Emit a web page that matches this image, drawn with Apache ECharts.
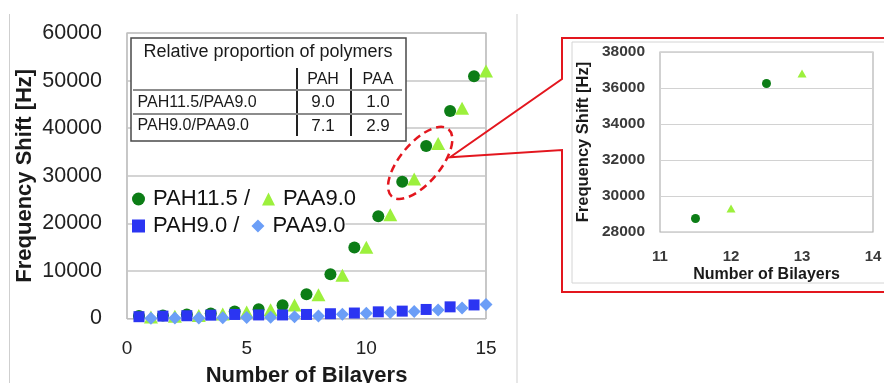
<!DOCTYPE html>
<html>
<head>
<meta charset="utf-8">
<script src="https://cdn.jsdelivr.net/npm/echarts@6/dist/echarts.min.js"></script>
<style>
  html, body { margin: 0; padding: 0; background: #fff; }
  #c { width: 884px; height: 383px; }
</style>
</head>
<body>
<div id="c"></div>
<script>
// Bilayer counts: PAH layers sit on half-integers, PAA layers on integers
const bilayersPAH = [0.5, 1.5, 2.5, 3.5, 4.5, 5.5, 6.5, 7.5, 8.5, 9.5, 10.5, 11.5, 12.5, 13.5, 14.5];
const bilayersPAA = [1, 2, 3, 4, 5, 6, 7, 8, 9, 10, 11, 12, 13, 14, 15];

// Frequency shift [Hz]
const shiftPAH115 = [550, 650, 850, 1050, 1450, 1950, 2800, 5100, 9300, 14900, 21500, 28750, 36250, 43600, 50900];
const shiftPAA90onPAH115 = [300, 450, 650, 950, 1350, 1850, 2850, 5000, 9100, 15000, 21800, 29300, 36800, 44200, 52000];
const shiftPAH90 = [380, 500, 580, 700, 850, 750, 750, 850, 1000, 1150, 1400, 1550, 1900, 2450, 2850];
const shiftPAA90onPAH90 = [50, 80, 120, 150, 200, 280, 380, 530, 880, 1100, 1250, 1450, 1800, 2200, 2950];

// Legend labels
const seriesNames = ['PAH11.5', 'PAA9.0 (on PAH11.5)', 'PAH9.0', 'PAA9.0 (on PAH9.0)'];
const legendLabels = {
  'PAH11.5': 'PAH11.5 /',
  'PAA9.0 (on PAH11.5)': 'PAA9.0',
  'PAH9.0': 'PAH9.0 /',
  'PAA9.0 (on PAH9.0)': 'PAA9.0'
};

// Composition table
const tableTitle = 'Relative proportion of polymers';
const tableHead = ['PAH', 'PAA'];
const tableRows = [
  ['PAH11.5/PAA9.0', '9.0', '1.0'],
  ['PAH9.0/PAA9.0', '7.1', '2.9']
];

// Axis titles
const xTitle = 'Number of Bilayers';
const yTitle = 'Frequency Shift [Hz]';

const FONT = '"Liberation Sans", Arial, Helvetica, sans-serif';
const C_PAH115 = '#0c7d16';
const C_PAA_A = '#9cf03c';
const C_PAH90 = '#2b35f2';
const C_PAA_B = '#6b9ef7';
const RED = '#e3161e';

const pairs = (xs, ys) => xs.map((x, i) => [x, ys[i]]);
const plain = v => String(v);

const mainGrid = { left: 127, top: 33, width: 359, height: 285.5 };
const insetGrid = { left: 660, top: 52, width: 213, height: 180 };

const chart = echarts.init(document.getElementById('c'), null, { renderer: 'canvas' });

const legendCommon = {
  orient: 'horizontal',
  padding: 0,
  itemGap: 12,
  itemWidth: 13,
  itemHeight: 13,
  backgroundColor: '#fff',
  formatter: name => legendLabels[name],
  textStyle: { fontFamily: FONT, fontSize: 22, color: '#111', padding: [0, 0, 0, 3] },
  selectedMode: false
};

const gridBase = { show: true, containLabel: false, outerBoundsMode: 'none' };

chart.setOption({
  animation: false,
  backgroundColor: '#fff',
  textStyle: { fontFamily: FONT },
  grid: [
    Object.assign({}, gridBase, { borderColor: '#a3a3a3', borderWidth: 1.2 }, mainGrid),
    Object.assign({}, gridBase, { borderColor: '#b3b3b3', borderWidth: 1.2 }, insetGrid)
  ],
  xAxis: [
    {
      gridIndex: 0, type: 'value', min: 0, max: 15, interval: 5,
      name: xTitle, nameLocation: 'middle', nameGap: 46,
      nameTextStyle: { fontFamily: FONT, fontSize: 22, fontWeight: 'bold', color: '#1a1a1a' },
      axisLine: { show: false }, axisTick: { show: false },
      axisLabel: { fontSize: 19, color: '#222', margin: 21, formatter: plain },
      splitLine: { show: false }
    },
    {
      gridIndex: 1, type: 'value', min: 11, max: 14, interval: 1,
      name: xTitle, nameLocation: 'middle', nameGap: 35,
      nameTextStyle: { fontFamily: FONT, fontSize: 16, fontWeight: 'bold', color: '#1a1a1a' },
      axisLine: { show: false }, axisTick: { show: false },
      axisLabel: { fontSize: 15, fontWeight: 'bold', color: '#3a3a3a', margin: 17, formatter: plain },
      splitLine: { show: false }
    }
  ],
  yAxis: [
    {
      gridIndex: 0, type: 'value', min: 0, max: 60000, interval: 10000,
      name: yTitle, nameLocation: 'middle', nameGap: 91,
      nameTextStyle: { fontFamily: FONT, fontSize: 22, fontWeight: 'bold', color: '#1a1a1a' },
      axisLine: { show: false }, axisTick: { show: false },
      axisLabel: { fontSize: 21.5, color: '#222', margin: 25, formatter: plain },
      splitLine: { lineStyle: { color: '#c6c6c6', width: 1.5 } }
    },
    {
      gridIndex: 1, type: 'value', min: 28000, max: 38000, interval: 2000,
      name: yTitle, nameLocation: 'middle', nameGap: 68,
      nameTextStyle: { fontFamily: FONT, fontSize: 16.5, fontWeight: 'bold', color: '#1a1a1a' },
      axisLine: { show: false }, axisTick: { show: false },
      axisLabel: { fontSize: 15.5, fontWeight: 'bold', color: '#3a3a3a', margin: 15, formatter: plain },
      splitLine: { lineStyle: { color: '#d2d2d2', width: 1.2 } }
    }
  ],
  legend: [
    Object.assign({}, legendCommon, {
      left: 132, top: 188,
      data: [
        { name: seriesNames[0], icon: 'circle', itemStyle: { color: C_PAH115 } },
        { name: seriesNames[1], icon: 'triangle', itemStyle: { color: C_PAA_A } }
      ]
    }),
    Object.assign({}, legendCommon, {
      left: 132, top: 215,
      data: [
        { name: seriesNames[2], icon: 'rect', itemStyle: { color: C_PAH90 } },
        { name: seriesNames[3], icon: 'diamond', itemStyle: { color: C_PAA_B } }
      ]
    })
  ],
  series: [
    { name: seriesNames[0], type: 'scatter', xAxisIndex: 0, yAxisIndex: 0, symbol: 'circle', symbolSize: 12,
      itemStyle: { color: C_PAH115, opacity: 1 }, data: pairs(bilayersPAH, shiftPAH115), z: 3 },
    { name: seriesNames[1], type: 'scatter', xAxisIndex: 0, yAxisIndex: 0, symbol: 'triangle', symbolSize: [14, 13],
      itemStyle: { color: C_PAA_A, opacity: 1 }, data: pairs(bilayersPAA, shiftPAA90onPAH115), z: 3 },
    { name: seriesNames[2], type: 'scatter', xAxisIndex: 0, yAxisIndex: 0, symbol: 'rect', symbolSize: 11,
      itemStyle: { color: C_PAH90, opacity: 1 }, data: pairs(bilayersPAH, shiftPAH90), z: 4 },
    { name: seriesNames[3], type: 'scatter', xAxisIndex: 0, yAxisIndex: 0, symbol: 'diamond', symbolSize: 13,
      itemStyle: { color: C_PAA_B, opacity: 1 }, data: pairs(bilayersPAA, shiftPAA90onPAH90), z: 4 },
    // zoomed view of the 11-14 bilayer region
    { name: seriesNames[0], type: 'scatter', xAxisIndex: 1, yAxisIndex: 1, symbol: 'circle', symbolSize: 9, clip: true,
      itemStyle: { color: C_PAH115, opacity: 1 }, data: pairs(bilayersPAH, shiftPAH115) },
    { name: seriesNames[1], type: 'scatter', xAxisIndex: 1, yAxisIndex: 1, symbol: 'triangle', symbolSize: [9, 8], clip: true,
      itemStyle: { color: C_PAA_A, opacity: 1 }, data: pairs(bilayersPAA, shiftPAA90onPAH115) }
  ]
});

// Annotations: composition table, highlight ellipse, call-out frame
function buildGraphics() {
  const els = [];
  const font = (size, weight) => (weight ? weight + ' ' : '') + size + 'px ' + FONT;

  // panel separators
  els.push({ type: 'line', shape: { x1: 9.5, y1: 14, x2: 9.5, y2: 383 }, style: { stroke: '#cfcfcf', lineWidth: 1 }, z: 1 });
  els.push({ type: 'line', shape: { x1: 517, y1: 14, x2: 517, y2: 383 }, style: { stroke: '#cfcfcf', lineWidth: 1 }, z: 1 });

  // composition table
  const tx = mainGrid.left + 4, ty = mainGrid.top + 5, tw = 275, th = 103;
  els.push({ type: 'rect', shape: { x: tx, y: ty, width: tw, height: th },
    style: { fill: '#fff', stroke: '#4a4a4a', lineWidth: 1.5 }, z: 10 });
  els.push({ type: 'text', x: tx + 137, y: ty + 14, z: 11,
    style: { text: tableTitle, font: font(18), fill: '#1a1a1a', align: 'center', verticalAlign: 'middle' } });
  const col1 = tx + 166, col2 = tx + 220;
  const colC1 = tx + 192, colC2 = tx + 247;
  els.push({ type: 'line', shape: { x1: col1, y1: ty + 30, x2: col1, y2: ty + 98 }, style: { stroke: '#222', lineWidth: 2 }, z: 11 });
  els.push({ type: 'line', shape: { x1: col2, y1: ty + 30, x2: col2, y2: ty + 98 }, style: { stroke: '#222', lineWidth: 2 }, z: 11 });
  els.push({ type: 'line', shape: { x1: tx + 2, y1: ty + 52, x2: tx + 271, y2: ty + 52 }, style: { stroke: '#8c8c8c', lineWidth: 2 }, z: 11 });
  els.push({ type: 'line', shape: { x1: tx + 2, y1: ty + 76, x2: tx + 271, y2: ty + 76 }, style: { stroke: '#8c8c8c', lineWidth: 2 }, z: 11 });
  els.push({ type: 'text', x: colC1, y: ty + 42, z: 11,
    style: { text: tableHead[0], font: font(16), fill: '#1a1a1a', align: 'center', verticalAlign: 'middle' } });
  els.push({ type: 'text', x: colC2, y: ty + 42, z: 11,
    style: { text: tableHead[1], font: font(16), fill: '#1a1a1a', align: 'center', verticalAlign: 'middle' } });
  tableRows.forEach((row, i) => {
    const ry = ty + 64.5 + i * 23.5;
    els.push({ type: 'text', x: tx + 6.5, y: ry, z: 11,
      style: { text: row[0], font: font(16), fill: '#1a1a1a', align: 'left', verticalAlign: 'middle' } });
    els.push({ type: 'text', x: colC1, y: ry, z: 11,
      style: { text: row[1], font: font(17), fill: '#1a1a1a', align: 'center', verticalAlign: 'middle' } });
    els.push({ type: 'text', x: colC2, y: ry, z: 11,
      style: { text: row[2], font: font(17), fill: '#1a1a1a', align: 'center', verticalAlign: 'middle' } });
  });

  // dashed ellipse around the zoomed points, anchored in data space
  const ec = chart.convertToPixel({ gridIndex: 0 }, [12.25, 32700]);
  els.push({ type: 'ellipse', x: ec[0], y: ec[1], rotation: 50 * Math.PI / 180, z: 12,
    shape: { cx: 0, cy: 0, rx: 44, ry: 20 },
    style: { fill: 'none', stroke: RED, lineWidth: 2.5, lineDash: [8, 5] } });

  // call-out frame joining the ellipse to the inset
  const tip = chart.convertToPixel({ gridIndex: 0 }, [13.5, 33900]);
  const fx = insetGrid.left - 98;
  const fTop = insetGrid.top - 14, fBot = insetGrid.top + insetGrid.height + 60;
  els.push({ type: 'polyline', z: 12,
    shape: { points: [[900, fTop], [fx, fTop], [fx, fTop + 41], [tip[0], tip[1]], [fx, fTop + 112], [fx, fBot], [900, fBot]] },
    style: { stroke: RED, lineWidth: 2, fill: null } });
  // inner chart-area frame of the inset
  els.push({ type: 'rect', z: 1, shape: { x: fx + 10, y: fTop + 4, width: 400, height: fBot - fTop - 13 },
    style: { fill: 'none', stroke: '#d4d4d4', lineWidth: 1 } });
  return els;
}

chart.setOption({ graphic: { elements: buildGraphics() } });
</script>
</body>
</html>
